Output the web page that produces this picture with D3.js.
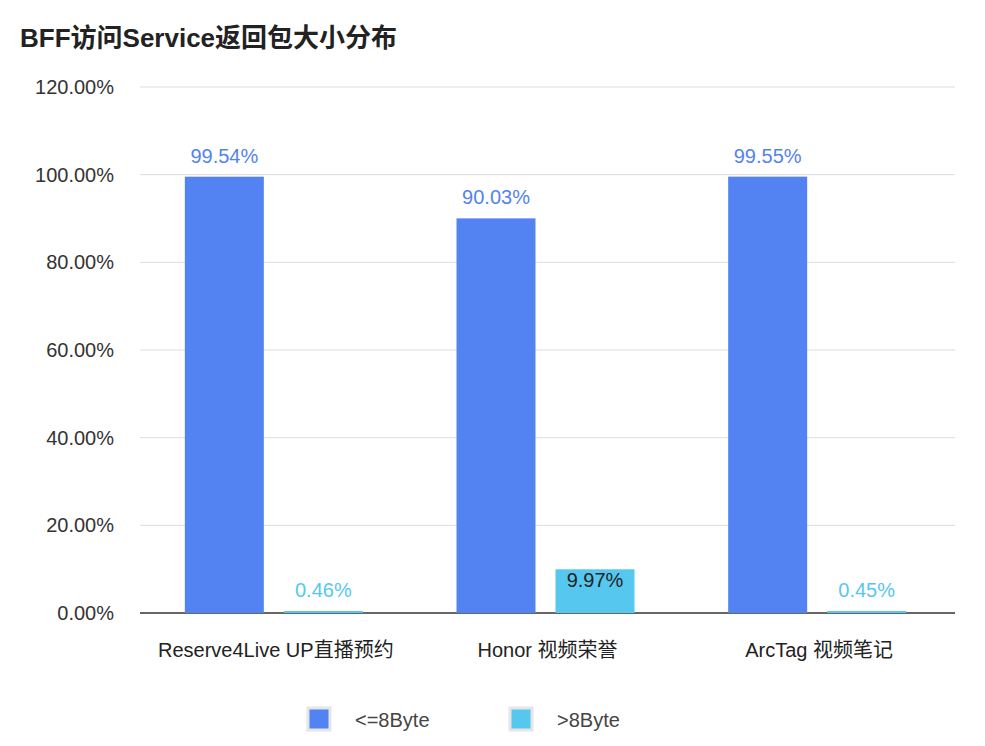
<!DOCTYPE html>
<html><head><meta charset="utf-8">
<script src="https://cdn.jsdelivr.net/npm/d3@7"></script>
<style>body{margin:0;background:#fff;font-family:"Liberation Sans","Noto Sans CJK SC",sans-serif}</style>
</head><body><div id="chart"></div>
<script>
var categories = ['Reserve4Live UP直播预约', 'Honor 视频荣誉', 'ArcTag 视频笔记']
var seriesNames = ['<=8Byte', '>8Byte']
var small = [99.54, 90.03, 99.55]
var large = [0.46, 9.97, 0.45]
var yTicks = [0, 20, 40, 60, 80, 100, 120]
var colors = ['#5383f2', '#56c8f0']

var width = 985, height = 746
var margin = {top: 87, right: 30, bottom: 133, left: 140}

var svg = d3.select('#chart').append('svg').attr('width', width).attr('height', height)

svg.append('text').attr('x', 20).attr('y', 47).attr('font-size', 26).attr('font-weight', 'bold')
  .attr('fill', '#222').text('BFF访问Service返回包大小分布')

var x = d3.scaleBand().domain(categories).range([margin.left, width - margin.right])
var y = d3.scaleLinear().domain([0, 120]).range([height - margin.bottom, margin.top])

var g = svg.append('g')
g.selectAll('.grid').data(yTicks).enter().append('line')
  .attr('x1', margin.left).attr('x2', width - margin.right)
  .attr('y1', function (d) { return y(d) }).attr('y2', function (d) { return y(d) })
  .attr('stroke', function (d) { return d === 0 ? '#333' : '#ddd' })
  .attr('stroke-width', function (d) { return d === 0 ? 1.5 : 1 })

g.selectAll('.ytick').data(yTicks).enter().append('text')
  .attr('x', 114).attr('y', function (d) { return y(d) + 7 })
  .attr('text-anchor', 'end').attr('font-size', 20).attr('fill', '#333')
  .text(function (d) { return d.toFixed(2) + '%' })

g.selectAll('.xlab').data(categories).enter().append('text')
  .attr('x', function (d) { return x(d) + x.bandwidth() / 2 }).attr('y', 657)
  .attr('text-anchor', 'middle').attr('font-size', 20).attr('fill', '#222')
  .text(function (d) { return d })

var barW = 79, gap = 20
var series = [small, large]
series.forEach(function (vals, s) {
  var off = s === 0 ? -gap / 2 - barW : gap / 2
  g.selectAll('.bar' + s).data(vals).enter().append('rect')
    .attr('x', function (d, i) { return x(categories[i]) + x.bandwidth() / 2 + off - 2 })
    .attr('width', barW)
    .attr('y', function (d) { return y(d) })
    .attr('height', function (d) { return y(0) - y(d) })
    .attr('fill', colors[s])
  g.selectAll('.lab' + s).data(vals).enter().append('text')
    .attr('x', function (d, i) { return x(categories[i]) + x.bandwidth() / 2 + off - 2 + barW / 2 })
    .attr('y', function (d) { return d > 5 && s === 1 ? y(d) + 18 : y(d) - 14 })
    .attr('text-anchor', 'middle').attr('font-size', 20)
    .attr('fill', function (d) { return d > 5 && s === 1 ? '#222' : colors[s] })
    .text(function (d) { return d.toFixed(2) + '%' })
})

var legendX = [308, 510]
seriesNames.forEach(function (n, i) {
  svg.append('rect').attr('x', legendX[i]).attr('y', 708).attr('width', 22).attr('height', 22)
    .attr('fill', colors[i]).attr('stroke', '#e5e5e5').attr('stroke-width', 3)
  svg.append('text').attr('x', legendX[i] + 47).attr('y', 727).attr('font-size', 20)
    .attr('fill', '#444').text(n)
})
</script></body></html>
